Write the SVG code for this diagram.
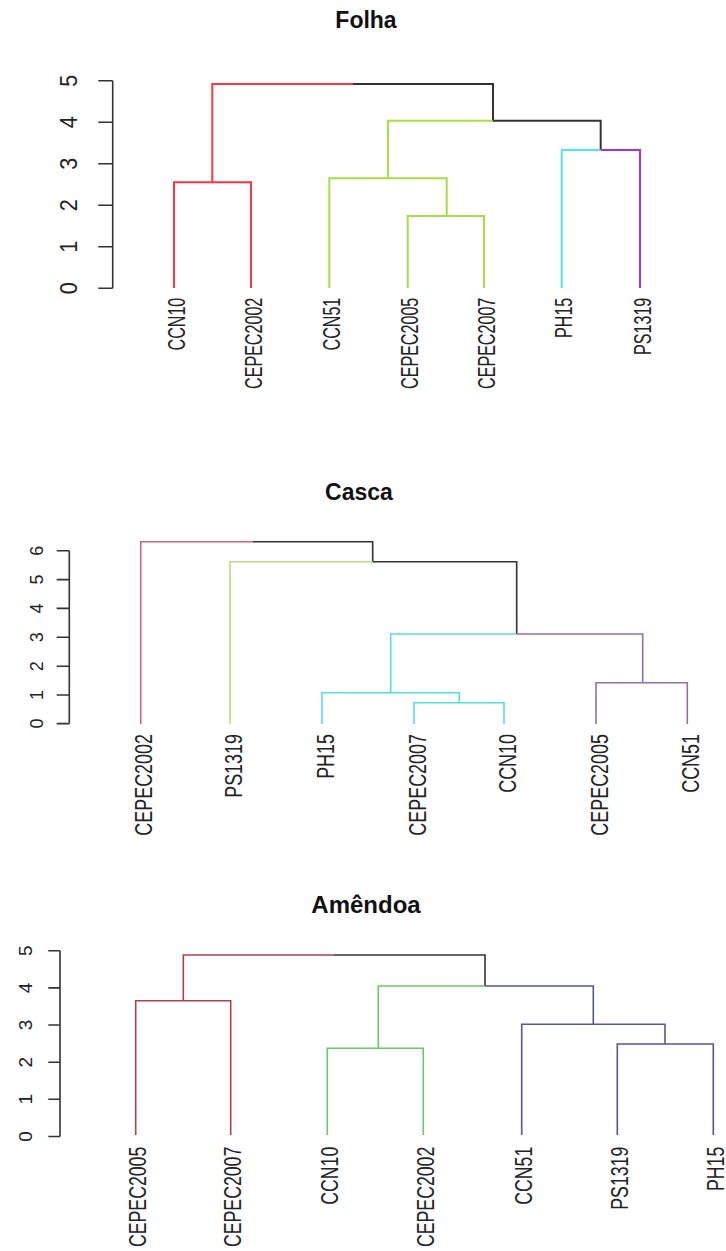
<svg xmlns="http://www.w3.org/2000/svg" width="726" height="1251" viewBox="0 0 726 1251">
<style>
.title{font-family:"Liberation Sans",Arial,sans-serif;font-weight:bold;fill:#111;text-anchor:middle}
.lab{font-family:"Liberation Sans",Arial,sans-serif;fill:#222;text-anchor:end}
.tick{font-family:"Liberation Sans",Arial,sans-serif;fill:#222;text-anchor:middle}
.ax{stroke:#333;stroke-width:1.6;fill:none}
.k{stroke:#333;fill:none}
.br{fill:none}
</style>
<rect width="726" height="1251" fill="#fff"/>

<!-- ================= FOLHA ================= -->
<g id="folha">
<text class="title" x="366" y="28" font-size="23">Folha</text>
<g id="folha-axis">
<path class="ax" d="M112.7 80.7V288.3M98.3 80.7H112.7M98.3 122.2H112.7M98.3 163.7H112.7M98.3 205.3H112.7M98.3 246.8H112.7M98.3 288.3H112.7"/>
<g font-size="24">
<text class="tick" transform="translate(76.7,288.3) rotate(-90) scale(0.9,1)">0</text>
<text class="tick" transform="translate(76.7,246.8) rotate(-90) scale(0.9,1)">1</text>
<text class="tick" transform="translate(76.7,205.3) rotate(-90) scale(0.9,1)">2</text>
<text class="tick" transform="translate(76.7,163.7) rotate(-90) scale(0.9,1)">3</text>
<text class="tick" transform="translate(76.7,122.2) rotate(-90) scale(0.9,1)">4</text>
<text class="tick" transform="translate(76.7,80.7) rotate(-90) scale(0.9,1)">5</text>
</g>
</g>
<g id="folha-connectors" stroke-width="2">
<path class="br" stroke="#FF3344" d="M174 288V182.3H251V288M212.3 182.3V84H353"/>
<path class="k" d="M353 84H493V120.7H600.7V150"/>
<path class="br" stroke="#A6E040" d="M493 120.7H388V178.3M329.3 288V178.3H446.7V216M407.7 288V216H484V288"/>
<path class="br" stroke="#4DE8E8" d="M600.7 150H561.7V288"/>
<path class="br" stroke="#9933EE" d="M600.7 150H640V288"/>
</g>
<g id="folha-leaves" font-size="23">
<text class="lab" transform="translate(184.5,297.7) rotate(-90) scale(0.7,1)">CCN10</text>
<text class="lab" transform="translate(261.5,297.7) rotate(-90) scale(0.7,1)">CEPEC2002</text>
<text class="lab" transform="translate(339.8,297.7) rotate(-90) scale(0.7,1)">CCN51</text>
<text class="lab" transform="translate(418.2,297.7) rotate(-90) scale(0.7,1)">CEPEC2005</text>
<text class="lab" transform="translate(494.5,297.7) rotate(-90) scale(0.7,1)">CEPEC2007</text>
<text class="lab" transform="translate(572.2,297.7) rotate(-90) scale(0.7,1)">PH15</text>
<text class="lab" transform="translate(650.5,297.7) rotate(-90) scale(0.7,1)">PS1319</text>
</g>
</g>

<!-- ================= CASCA ================= -->
<g id="casca">
<text class="title" x="359" y="500" font-size="23">Casca</text>
<g id="casca-axis">
<path class="ax" d="M69.3 550.7V723.6M56.7 550.7H69.3M56.7 579.6H69.3M56.7 608.4H69.3M56.7 637.3H69.3M56.7 666.2H69.3M56.7 695H69.3M56.7 723.6H69.3"/>
<g font-size="18">
<text class="tick" transform="translate(42.7,723.6) rotate(-90)">0</text>
<text class="tick" transform="translate(42.7,695) rotate(-90)">1</text>
<text class="tick" transform="translate(42.7,666.2) rotate(-90)">2</text>
<text class="tick" transform="translate(42.7,637.3) rotate(-90)">3</text>
<text class="tick" transform="translate(42.7,608.4) rotate(-90)">4</text>
<text class="tick" transform="translate(42.7,579.6) rotate(-90)">5</text>
<text class="tick" transform="translate(42.7,550.7) rotate(-90)">6</text>
</g>
</g>
<g id="casca-connectors" stroke-width="1.6">
<path class="br" stroke="#CC6677" d="M140.7 724V541.7H253"/>
<path class="k" d="M253 541.7H372.7V561.7H516.7V634"/>
<path class="br" stroke="#B5E27A" d="M372.7 561.7H230V724"/>
<path class="br" stroke="#55E0E0" d="M516.7 634H390.7V692.7M322 724V692.7H459.3V702.7M414 724V702.7H504V724"/>
<path class="br" stroke="#9070B0" d="M516.7 634H642.7V682.7M596 724V682.7H687.3V724"/>
</g>
<g id="casca-leaves" font-size="23">
<text class="lab" transform="translate(152.4,734) rotate(-90) scale(0.78,1)">CEPEC2002</text>
<text class="lab" transform="translate(241.7,734) rotate(-90) scale(0.78,1)">PS1319</text>
<text class="lab" transform="translate(333.7,734) rotate(-90) scale(0.78,1)">PH15</text>
<text class="lab" transform="translate(425.7,734) rotate(-90) scale(0.78,1)">CEPEC2007</text>
<text class="lab" transform="translate(515.7,734) rotate(-90) scale(0.78,1)">CCN10</text>
<text class="lab" transform="translate(607.7,734) rotate(-90) scale(0.78,1)">CEPEC2005</text>
<text class="lab" transform="translate(699,734) rotate(-90) scale(0.78,1)">CCN51</text>
</g>
</g>

<!-- ================= AMENDOA ================= -->
<g id="amendoa">
<text class="title" x="366" y="912.7" font-size="24">Amêndoa</text>
<g id="amendoa-axis">
<path class="ax" d="M60 950.7V1136.5M48.3 950.7H60M48.3 987.9H60M48.3 1025H60M48.3 1062.2H60M48.3 1099.3H60M48.3 1136.5H60"/>
<g font-size="19">
<text class="tick" transform="translate(32,1136.5) rotate(-90)">0</text>
<text class="tick" transform="translate(32,1099.3) rotate(-90)">1</text>
<text class="tick" transform="translate(32,1062.2) rotate(-90)">2</text>
<text class="tick" transform="translate(32,1025) rotate(-90)">3</text>
<text class="tick" transform="translate(32,987.9) rotate(-90)">4</text>
<text class="tick" transform="translate(32,950.7) rotate(-90)">5</text>
</g>
</g>
<g id="amendoa-connectors" stroke-width="1.6">
<path class="br" stroke="#B34050" d="M135.7 1135V1000.7H230.7V1135M183.3 1000.7V955H333.3"/>
<path class="k" d="M333.3 955H485V986"/>
<path class="br" stroke="#66CC66" d="M485 986H378.3V1048.3M327.3 1135V1048.3H423.3V1135"/>
<path class="br" stroke="#5555A0" d="M485 986H593.3V1024.3M521.7 1135V1024.3H665V1044M617.3 1135V1044H713.3V1135"/>
</g>
<g id="amendoa-leaves" font-size="23">
<text class="lab" transform="translate(146.2,1146.7) rotate(-90) scale(0.77,1)">CEPEC2005</text>
<text class="lab" transform="translate(241.2,1146.7) rotate(-90) scale(0.77,1)">CEPEC2007</text>
<text class="lab" transform="translate(337.8,1146.7) rotate(-90) scale(0.77,1)">CCN10</text>
<text class="lab" transform="translate(433.8,1146.7) rotate(-90) scale(0.77,1)">CEPEC2002</text>
<text class="lab" transform="translate(532.2,1146.7) rotate(-90) scale(0.77,1)">CCN51</text>
<text class="lab" transform="translate(627.8,1146.7) rotate(-90) scale(0.77,1)">PS1319</text>
<text class="lab" transform="translate(723.8,1146.7) rotate(-90) scale(0.77,1)">PH15</text>
</g>
</g>
</svg>
